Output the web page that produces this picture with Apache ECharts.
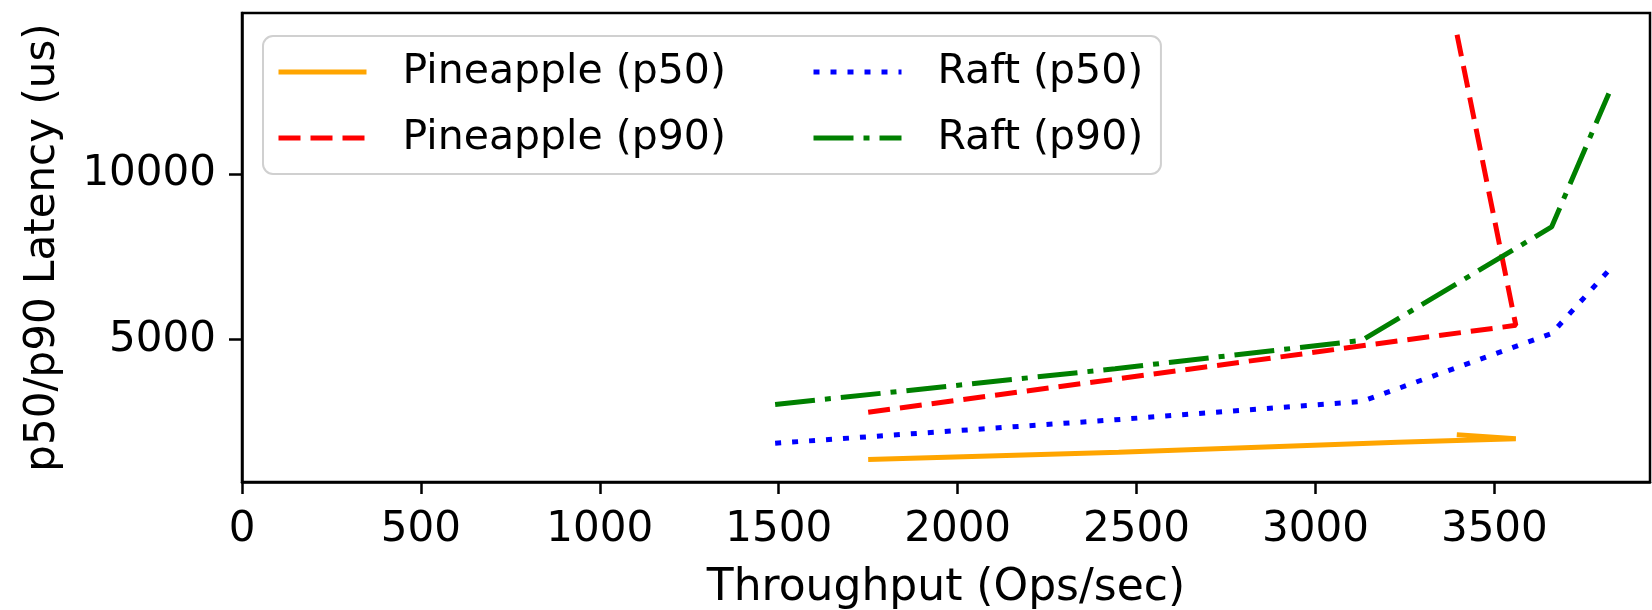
<!DOCTYPE html>
<html>
<head>
<meta charset="utf-8">
<script src="https://cdn.jsdelivr.net/npm/echarts@6/dist/echarts.min.js"></script>
<style>
    html, body { margin: 0; padding: 0; background: #fff; }
    #main { width: 1652px; height: 610px; }
</style>
</head>
<body>
<div id="main"></div>
<script>
    // throughput (ops/sec) and latency (us)
    var pineX = [1750, 2450, 3230, 3560, 3395];
    var pineP50 = [1379, 1600, 1903, 2005, 2130];
    var pineP90 = [2810, 3820, 4960, 5433, 14256];

    var raftX = [1490, 2440, 3130, 3660, 3820];
    var raftP50 = [1872, 2580, 3134, 5183, 7096];
    var raftP90 = [3043, 4123, 4979, 8406, 12441];

    var xTicks = [0, 500, 1000, 1500, 2000, 2500, 3000, 3500];
    var yTicks = [5000, 10000];

    function pairs(xs, ys) {
        var out = [];
        for (var i = 0; i < xs.length; i++) {
            out.push([xs[i], ys[i]]);
        }
        return out;
    }

    var font = 'DejaVu Sans';

    function line(name, xs, ys, color, type) {
        return {
            name: name,
            type: 'line',
            data: pairs(xs, ys),
            symbol: 'none',
            smooth: false,
            animation: false,
            lineStyle: { color: color, width: 5, type: type, cap: 'butt' },
            itemStyle: { color: color }
        };
    }

    function plain(v) {
        return String(v);
    }

    var legendText = { fontFamily: font, fontSize: 41, color: '#000', lineHeight: 42, padding: [0, 0, 0, 31] };
    var legendCommon = {
        orient: 'vertical',
        itemGap: 24,
        itemWidth: 88,
        itemHeight: 42,
        itemStyle: { opacity: 0 },
        lineStyle: { width: 5, cap: 'butt' },
        textStyle: legendText
    };

    var myChart = echarts.init(document.getElementById('main'));
    myChart.setOption({
        animation: false,
        grid: {
            left: 242,
            right: 2,
            top: 13,
            bottom: 128,
            show: true,
            borderColor: '#000',
            borderWidth: 2.5,
            outerBoundsMode: 'none'
        },
        legend: [
            Object.assign({}, legendCommon, {
                data: ['Pineapple (p50)', 'Pineapple (p90)'],
                left: 263,
                top: 36,
                padding: [15, 435, 15, 13],
                backgroundColor: 'rgba(255,255,255,0.8)',
                borderColor: '#d0d0d0',
                borderWidth: 2,
                borderRadius: 10
            }),
            Object.assign({}, legendCommon, {
                data: ['Raft (p50)', 'Raft (p90)'],
                left: 811,
                top: 51,
                padding: 0
            })
        ],
        xAxis: {
            type: 'value',
            min: 0,
            max: 3935,
            name: 'Throughput (Ops/sec)',
            nameLocation: 'middle',
            nameGap: 85,
            nameTextStyle: { fontFamily: font, fontSize: 44, color: '#000' },
            axisLine: { show: true, lineStyle: { color: '#000', width: 2.5 } },
            axisTick: { show: true, length: 12, lineStyle: { color: '#000', width: 2.5 }, customValues: xTicks },
            axisLabel: { fontFamily: font, fontSize: 42, color: '#000', margin: 27, formatter: plain, customValues: xTicks },
            splitLine: { show: false }
        },
        yAxis: {
            type: 'value',
            min: 700,
            max: 14870,
            name: 'p50/p90 Latency (us)',
            nameLocation: 'middle',
            nameGap: 178,
            nameRotate: 90,
            nameTextStyle: { fontFamily: font, fontSize: 42, color: '#000' },
            axisLine: { show: true, lineStyle: { color: '#000', width: 2.5 } },
            axisTick: { show: true, length: 13, lineStyle: { color: '#000', width: 2.5 }, customValues: yTicks },
            axisLabel: { fontFamily: font, fontSize: 42, color: '#000', margin: 26, formatter: plain, customValues: yTicks },
            splitLine: { show: false }
        },
        series: [
            line('Pineapple (p50)', pineX, pineP50, '#FFA500', 'solid'),
            line('Pineapple (p90)', pineX, pineP90, '#FF0000', [22, 10]),
            line('Raft (p50)', raftX, raftP50, '#0000FF', [6, 11]),
            line('Raft (p90)', raftX, raftP90, '#008000', [40, 10, 6, 10])
        ]
    });
</script>
</body>
</html>
